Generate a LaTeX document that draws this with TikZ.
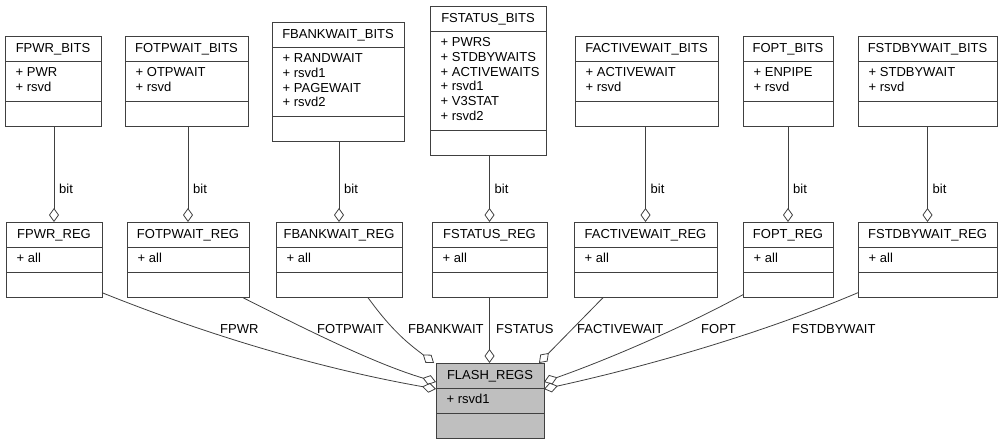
\documentclass[tikz,border=0pt]{standalone}
\usepackage{fontspec}
\setmainfont{Liberation Sans}
\usetikzlibrary{arrows.meta,calc}
\definecolor{edge}{HTML}{404040}
\definecolor{boxfill}{HTML}{BFBFBF}
\tikzset{
  classbox/.style={draw=edge, line width=1pt, inner sep=0pt, outer sep=0pt, anchor=north west},
  divider/.style={draw=edge, line width=1pt},
  conn/.style={draw=edge, line width=0.8pt},
  agg/.style={conn, -{Diamond[open, length=14pt, width=10pt, line width=0.8pt]}},
  lbl/.style={anchor=base west, inner sep=0pt}
}
\newcommand\umlclass[8][white]{%
  \pgfmathsetmacro\ya{#5+25}%
  \pgfmathsetmacro\yb{\ya+11+14.67*#6}%
  \pgfmathsetmacro\yc{\yb+25}%
  \pgfmathsetmacro\bw{#4-#3}%
  \pgfmathsetmacro\bh{\yc-#5}%
  \node[classbox, fill=#1, minimum width=\bw pt, minimum height=\bh pt] (#2) at (#3,#5) {};
  \draw[divider] (#3,\ya) -- (#4,\ya);
  \draw[divider] (#3,\yb) -- (#4,\yb);
  \node[anchor=base, inner sep=0pt] (#2-title) at ({(#3+#4)/2},{#5+16.7}) {#7};
  \foreach \a [count=\i] in {#8}
    \node[anchor=base west, inner sep=0pt] (#2-a\i) at ({#3+10.5},{\ya+15.7+14.67*(\i-1)}) {\a};
}
\begin{document}
\begin{tikzpicture}[x=1pt,y=-1pt,font=\fontsize{13}{15}\selectfont]
\useasboundingbox (0,0) rectangle (1004,445);
% BITS classes
\umlclass{fpwrbits}{5}{101}{36}{2}{FPWR\_BITS}{+ PWR,+ rsvd}
\umlclass{fotpwaitbits}{125}{248}{36}{2}{FOTPWAIT\_BITS}{+ OTPWAIT,+ rsvd}
\umlclass{fbankwaitbits}{272}{404}{22}{4}{FBANKWAIT\_BITS}{+ RANDWAIT,+ rsvd1,+ PAGEWAIT,+ rsvd2}
\umlclass{fstatusbits}{430}{546}{6}{6}{FSTATUS\_BITS}{+ PWRS,+ STDBYWAITS,+ ACTIVEWAITS,+ rsvd1,+ V3STAT,+ rsvd2}
\umlclass{factivewaitbits}{575}{718}{36}{2}{FACTIVEWAIT\_BITS}{+ ACTIVEWAIT,+ rsvd}
\umlclass{foptbits}{743}{833}{36}{2}{FOPT\_BITS}{+ ENPIPE,+ rsvd}
\umlclass{fstdbywaitbits}{858}{997}{36}{2}{FSTDBYWAIT\_BITS}{+ STDBYWAIT,+ rsvd}
% REG classes
\umlclass{fpwrreg}{6}{102}{222}{1}{FPWR\_REG}{+ all}
\umlclass{fotpwaitreg}{127}{249}{222}{1}{FOTPWAIT\_REG}{+ all}
\umlclass{fbankwaitreg}{276}{402}{222}{1}{FBANKWAIT\_REG}{+ all}
\umlclass{fstatusreg}{432}{547}{222}{1}{FSTATUS\_REG}{+ all}
\umlclass{factivewaitreg}{574}{717}{222}{1}{FACTIVEWAIT\_REG}{+ all}
\umlclass{foptreg}{743}{833}{222}{1}{FOPT\_REG}{+ all}
\umlclass{fstdbywaitreg}{858}{997}{222}{1}{FSTDBYWAIT\_REG}{+ all}
% main class
\umlclass[boxfill]{flash}{436}{544}{363}{1}{FLASH\_REGS}{+ rsvd1}
% bit connectors
\foreach \r/\b in {fpwrreg/fpwrbits,fotpwaitreg/fotpwaitbits,fbankwaitreg/fbankwaitbits,fstatusreg/fstatusbits,factivewaitreg/factivewaitbits,foptreg/foptbits,fstdbywaitreg/fstdbywaitbits}{
  \draw[agg] (\r.north |- \b.south) -- (\r.north);
  \node[lbl] (\r-bit) at ($(\r.north)+(5,-29)$) {bit};
}
% member connectors to FLASH_REGS
\draw[agg] ($(fpwrreg.south east)+(0,-5)$) .. controls (210,336) and (322,369) .. ($(flash.north west)+(0,26)$);
\draw[agg] ($(fotpwaitreg.south east)+(-6,0)$) .. controls (313,333) and (376,364) .. ($(flash.north west)+(0,19)$);
\draw[agg] ($(fbankwaitreg.south east)+(-34,0)$) .. controls (393,332) and (409,344) .. ($(flash.north west)+(-2,0)$);
\draw[agg] (fstatusreg.south) -- (fstatusreg.south |- flash.north);
\draw[agg] ($(factivewaitreg.south west)+(29,0)$) -- ($(flash.north east)+(-5,0)$);
\draw[agg] ($(foptreg.south west)+(0,-3)$) .. controls (682,328) and (604,361) .. ($(flash.north east)+(0,19)$);
\draw[agg] ($(fstdbywaitreg.south west)+(0,-5)$) .. controls (758,335) and (644,367) .. ($(flash.north east)+(0,26)$);
% edge labels
\node[lbl] (lfpwr) at (220,333) {FPWR};
\node[lbl] (lfotpwait) at (317,333) {FOTPWAIT};
\node[lbl] (lfbankwait) at (408,333) {FBANKWAIT};
\node[lbl] (lfstatus) at (496,333) {FSTATUS};
\node[lbl] (lfactivewait) at (577,333) {FACTIVEWAIT};
\node[lbl] (lfopt) at (701,333) {FOPT};
\node[lbl] (lfstdbywait) at (792,333) {FSTDBYWAIT};
\end{tikzpicture}
\end{document}
